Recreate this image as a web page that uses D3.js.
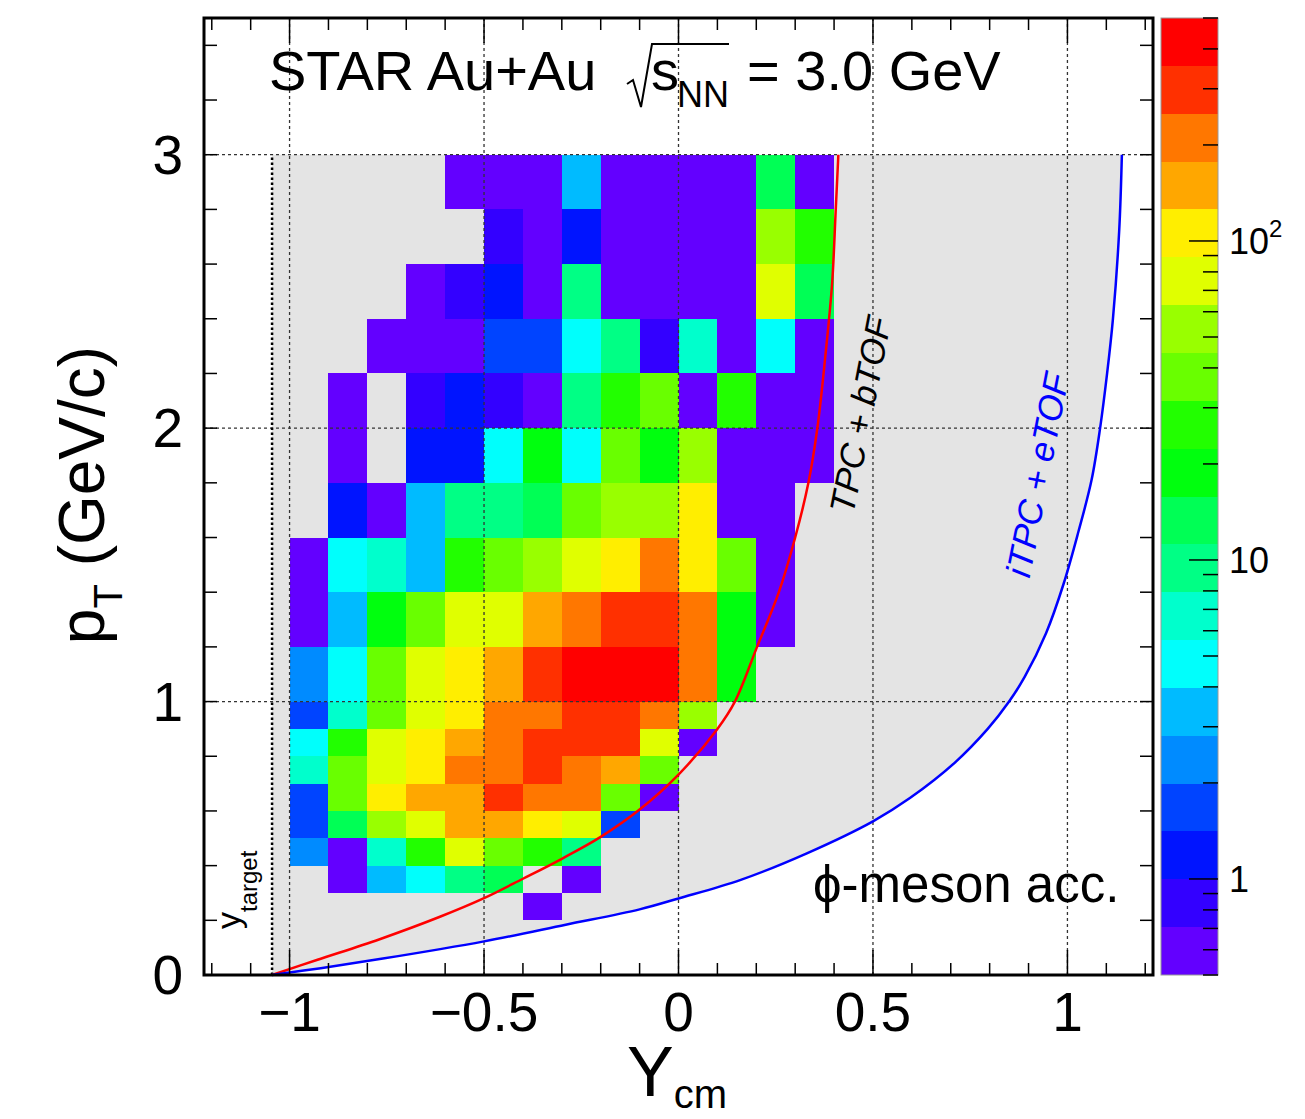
<!DOCTYPE html>
<html>
<head>
<meta charset="utf-8">
<script src="https://cdn.jsdelivr.net/npm/d3@7/dist/d3.min.js"></script>
<style>
  body { margin: 0; background: #ffffff; }
  text { font-family: "Liberation Sans", Arial, Helvetica, sans-serif; fill: #000; }
</style>
</head>
<body>
<svg id="plot" width="1305" height="1119"></svg>
<script>
// ---- data ----
// rapidity bin edges (Y_cm)
var yEdges = [-1.0, -0.9, -0.8, -0.7, -0.6, -0.5, -0.4, -0.3, -0.2, -0.1, 0.0, 0.1, 0.2, 0.3, 0.4];
// pT bin edges, from top row to bottom row (0.2 wide above 1 GeV/c, 0.1 below)
var ptEdges = [3.0, 2.8, 2.6, 2.4, 2.2, 2.0, 1.8, 1.6, 1.4, 1.2, 1.0, 0.9, 0.8, 0.7, 0.6, 0.5, 0.4, 0.3, 0.2];
// counts per bin, one row per pT bin (top to bottom), null = empty bin
var counts = [
  [null, null, null, null, 0.6, 0.6, 0.6, 3.3, 0.6, 0.6, 0.6, 0.6, 13, 0.6],
  [null, null, null, null, null, 0.8, 0.6, 1.2, 0.6, 0.6, 0.6, 0.6, 53, 27],
  [null, null, null, 0.6, 0.8, 1.2, 0.6, 9.4, 0.6, 0.6, 0.6, 0.6, 75, 13],
  [null, null, 0.6, 0.6, 0.6, 1.7, 1.7, 4.7, 9.4, 0.8, 6.7, 0.6, 4.7, 0.6],
  [null, 0.6, null, 0.8, 1.2, 0.8, 0.6, 9.4, 27, 38, 0.6, 27, 0.6, 0.6],
  [null, 0.6, null, 1.2, 1.2, 4.7, 19, 4.7, 38, 19, 53, 0.6, 0.6, 0.6],
  [null, 1.2, 0.6, 3.3, 9.4, 9.4, 13, 38, 53, 53, 106, 0.6, 0.6, null],
  [0.6, 4.7, 6.7, 3.3, 27, 38, 53, 75, 106, 210, 106, 38, 0.6, null],
  [0.6, 3.3, 19, 38, 75, 75, 150, 210, 300, 300, 210, 19, 0.6, null],
  [2.4, 4.7, 38, 75, 106, 150, 300, 420, 420, 420, 210, 19, null, null],
  [1.7, 6.7, 38, 75, 106, 210, 210, 300, 300, 210, 53, null, null, null],
  [4.7, 27, 75, 106, 150, 210, 300, 300, 300, 75, 0.6, null, null, null],
  [6.7, 38, 75, 106, 210, 210, 300, 210, 150, 38, null, null, null, null],
  [1.7, 38, 106, 150, 150, 300, 210, 210, 38, 0.6, null, null, null, null],
  [1.7, 13, 53, 75, 150, 150, 106, 75, 1.7, null, null, null, null, null],
  [2.4, 0.6, 6.7, 27, 75, 38, 27, 9.4, null, null, null, null, null, null],
  [null, 0.6, 3.3, 4.7, 9.4, 13, null, 0.6, null, null, null, null, null, null],
  [null, null, null, null, null, null, 0.6, null, null, null, null, null, null, null]
];
// acceptance edges [Y_cm, pT]
var tpcCurve = [[-1.045, 0], [-0.93, 0.055], [-0.77, 0.13], [-0.615, 0.212], [-0.5, 0.281], [-0.4, 0.352],
  [-0.3, 0.425], [-0.2, 0.505], [-0.1, 0.605], [0, 0.733], [0.1, 0.9], [0.145, 1.0], [0.202, 1.2],
  [0.258, 1.4], [0.30, 1.6], [0.334, 1.8], [0.357, 2.0], [0.378, 2.27], [0.395, 2.53], [0.404, 2.79], [0.411, 3.0]];
var etofCurve = [[-1.045, 0], [-0.92, 0.025], [-0.76, 0.06], [-0.5, 0.123], [-0.29, 0.184], [-0.1, 0.24],
  [0, 0.28], [0.16, 0.348], [0.33, 0.445], [0.5, 0.562], [0.595, 0.647], [0.71, 0.776], [0.795, 0.9],
  [0.85, 1.0], [0.89, 1.09], [0.945, 1.25], [0.99, 1.43], [1.028, 1.62], [1.062, 1.81], [1.084, 2.0],
  [1.102, 2.2], [1.117, 2.4], [1.133, 2.72], [1.14, 3.0]];
var yTarget = -1.045;
var xTicks = [-1, -0.5, 0, 0.5, 1];
var xTickLabels = ["\u22121", "\u22120.5", "0", "0.5", "1"];
var yTicks = [0, 1, 2, 3];
var yTickLabels = ["0", "1", "2", "3"];
var zTicks = [1, 10, 100];
var zTickLabels = [["1", ""], ["10", ""], ["10", "2"]];
var zRange = [0.5, 500];

// ---- layout ----
var frame = {left: 204, right: 1153, top: 18, bottom: 975};
var cb = {x0: 1161, x1: 1218};
var svg = d3.select("#plot");

var x = d3.scaleLinear().domain([-1.22, 1.22]).range([frame.left, frame.right]);
var y = d3.scaleLinear().domain([0, 3.5]).range([frame.bottom, frame.top]);
var z = d3.scaleLog().domain(zRange).range([frame.bottom, frame.top]);

// ROOT pretty palette: 20 contours picked out of 50 hues
var nLevels = 20;
var palette = d3.range(nLevels).map(function(j) {
  var idx = Math.floor((j + 0.99) * 50 / nLevels);
  return d3.hsl(280 - (idx + 1) * 280 / 50, 1, 0.5).formatHex();
});
var color = d3.scaleQuantize()
  .domain([Math.log10(zRange[0]), Math.log10(zRange[1])])
  .range(palette);

var line = d3.line()
  .x(function(d) { return x(d[0]); })
  .y(function(d) { return y(d[1]); })
  .curve(d3.curveCatmullRom.alpha(0.5));

// acceptance area (grey)
svg.append("path")
  .attr("d", line(etofCurve) + "L" + x(yTarget) + "," + y(3) + "Z")
  .attr("fill", "#e4e4e4");

// histogram cells
var cells = [];
counts.forEach(function(row, i) {
  row.forEach(function(v, k) {
    if (v == null) return;
    cells.push({x0: yEdges[k], x1: yEdges[k + 1], p0: ptEdges[i + 1], p1: ptEdges[i], v: v});
  });
});
svg.append("g").selectAll("rect")
  .data(cells).enter()
  .append("rect")
  .attr("x", function(d) { return x(d.x0); })
  .attr("y", function(d) { return y(d.p1); })
  .attr("width", function(d) { return x(d.x1) - x(d.x0); })
  .attr("height", function(d) { return y(d.p0) - y(d.p1); })
  .attr("fill", function(d) { return color(Math.log10(d.v)); })
  .attr("shape-rendering", "crispEdges");

// grid
var grid = svg.append("g")
  .attr("stroke", "#333")
  .attr("stroke-width", 1.3)
  .attr("stroke-dasharray", "3,3");
xTicks.forEach(function(v) {
  grid.append("line").attr("x1", x(v)).attr("x2", x(v)).attr("y1", frame.bottom).attr("y2", frame.top);
});
yTicks.slice(1).forEach(function(v) {
  grid.append("line").attr("x1", frame.left).attr("x2", frame.right).attr("y1", y(v)).attr("y2", y(v));
});

// target rapidity
svg.append("line")
  .attr("x1", x(yTarget)).attr("x2", x(yTarget))
  .attr("y1", y(0)).attr("y2", y(3))
  .attr("stroke", "#000").attr("stroke-width", 2.5)
  .attr("stroke-dasharray", "2.5,2.5");

// acceptance edges
svg.append("path").attr("d", line(tpcCurve))
  .attr("fill", "none").attr("stroke", "#ff0000").attr("stroke-width", 2.5);
svg.append("path").attr("d", line(etofCurve))
  .attr("fill", "none").attr("stroke", "#0000ff").attr("stroke-width", 2.5);

// labels inside the pad
var title = svg.append("g").attr("font-size", 56);
title.append("text").attr("x", 269).attr("y", 90).text("STAR Au+Au");
title.append("path")
  .attr("d", "M627,84 L633,80 L641,107 L652,44 L729,44")
  .attr("fill", "none").attr("stroke", "#000").attr("stroke-width", 2);
title.append("text").attr("x", 651).attr("y", 90).text("s");
title.append("text").attr("x", 677).attr("y", 107).attr("font-size", 36).text("NN");
title.append("text").attr("x", 747).attr("y", 90).text("= 3.0 GeV");

svg.append("text")
  .attr("x", 813).attr("y", 902)
  .attr("font-size", 51)
  .text("\u03d5-meson acc.");

svg.append("text")
  .attr("transform", "translate(860,415) rotate(-79)")
  .attr("text-anchor", "middle")
  .attr("dominant-baseline", "central")
  .attr("font-size", 35)
  .attr("font-style", "italic")
  .text("TPC + bTOF");

svg.append("text")
  .attr("transform", "translate(1037,475) rotate(-79)")
  .attr("text-anchor", "middle")
  .attr("dominant-baseline", "central")
  .attr("font-size", 35)
  .attr("font-style", "italic")
  .style("fill", "#0000ff")
  .text("iTPC + eTOF");

var yt = svg.append("text")
  .attr("transform", "translate(240,929) rotate(-90)")
  .attr("font-size", 34);
yt.append("tspan").text("y");
yt.append("tspan").attr("font-size", 24).attr("dy", 17).text("target");

// frame and ticks
svg.append("rect")
  .attr("x", frame.left).attr("y", frame.top)
  .attr("width", frame.right - frame.left).attr("height", frame.bottom - frame.top)
  .attr("fill", "none").attr("stroke", "#000").attr("stroke-width", 3);

var ticks = svg.append("g").attr("stroke", "#000").attr("stroke-width", 1.5);
d3.range(-12, 13).forEach(function(k) {
  var len = (k % 5 === 0) ? 25 : 12;
  var px = x(k / 10);
  ticks.append("line").attr("x1", px).attr("x2", px).attr("y1", frame.bottom).attr("y2", frame.bottom - len);
  ticks.append("line").attr("x1", px).attr("x2", px).attr("y1", frame.top).attr("y2", frame.top + len);
});
d3.range(0, 18).forEach(function(k) {
  var py = y(k / 5);
  ticks.append("line").attr("x1", frame.left).attr("x2", frame.left + 13).attr("y1", py).attr("y2", py);
  ticks.append("line").attr("x1", frame.right).attr("x2", frame.right - 13).attr("y1", py).attr("y2", py);
});

// axis labels
svg.append("g").selectAll("text")
  .data(xTicks).enter()
  .append("text")
  .attr("x", function(d) { return x(d); })
  .attr("y", 1031)
  .attr("text-anchor", "middle")
  .attr("font-size", 55)
  .text(function(d, i) { return xTickLabels[i]; });

svg.append("g").selectAll("text")
  .data(yTicks).enter()
  .append("text")
  .attr("x", 183)
  .attr("y", function(d) { return y(d); })
  .attr("text-anchor", "end")
  .attr("dominant-baseline", "central")
  .attr("font-size", 55)
  .text(function(d, i) { return yTickLabels[i]; });

var xt = svg.append("text").attr("x", 627).attr("y", 1096).attr("font-size", 70);
xt.append("tspan").text("Y");
xt.append("tspan").attr("font-size", 40).attr("dy", 12).text("cm");

var ytl = svg.append("text")
  .attr("transform", "translate(104,495) rotate(-90)")
  .attr("text-anchor", "middle")
  .attr("font-size", 64);
ytl.append("tspan").text("p");
ytl.append("tspan").attr("font-size", 40).attr("dy", 18).text("T");
ytl.append("tspan").attr("dy", -18).text(" (GeV/c)");

// colour palette axis
var zStep = (Math.log10(zRange[1]) - Math.log10(zRange[0])) / nLevels;
svg.append("g").selectAll("rect")
  .data(palette).enter()
  .append("rect")
  .attr("x", cb.x0)
  .attr("y", function(d, j) { return z(Math.pow(10, Math.log10(zRange[0]) + (j + 1) * zStep)); })
  .attr("width", cb.x1 - cb.x0)
  .attr("height", function(d, j) {
    var lo = Math.pow(10, Math.log10(zRange[0]) + j * zStep);
    var hi = Math.pow(10, Math.log10(zRange[0]) + (j + 1) * zStep);
    return z(lo) - z(hi);
  })
  .attr("fill", function(d) { return d; })
  .attr("shape-rendering", "crispEdges");
svg.append("rect")
  .attr("x", cb.x0).attr("y", frame.top)
  .attr("width", cb.x1 - cb.x0).attr("height", frame.bottom - frame.top)
  .attr("fill", "none").attr("stroke", "#999").attr("stroke-width", 1);

var zt = svg.append("g").attr("stroke", "#000").attr("stroke-width", 1.5);
z.ticks().forEach(function(v) {
  var major = Math.abs(Math.log10(v) - Math.round(Math.log10(v))) < 1e-6;
  var len = major ? 29 : 15;
  zt.append("line").attr("x1", cb.x1).attr("x2", cb.x1 - len).attr("y1", z(v)).attr("y2", z(v));
});
zTicks.forEach(function(v, i) {
  var t = svg.append("text")
    .attr("x", 1229).attr("y", z(v))
    .attr("dominant-baseline", "central")
    .attr("font-size", 36);
  t.append("tspan").text(zTickLabels[i][0]);
  if (zTickLabels[i][1]) {
    t.append("tspan").attr("font-size", 24).attr("dy", -13).text(zTickLabels[i][1]);
  }
});
</script>
</body>
</html>
